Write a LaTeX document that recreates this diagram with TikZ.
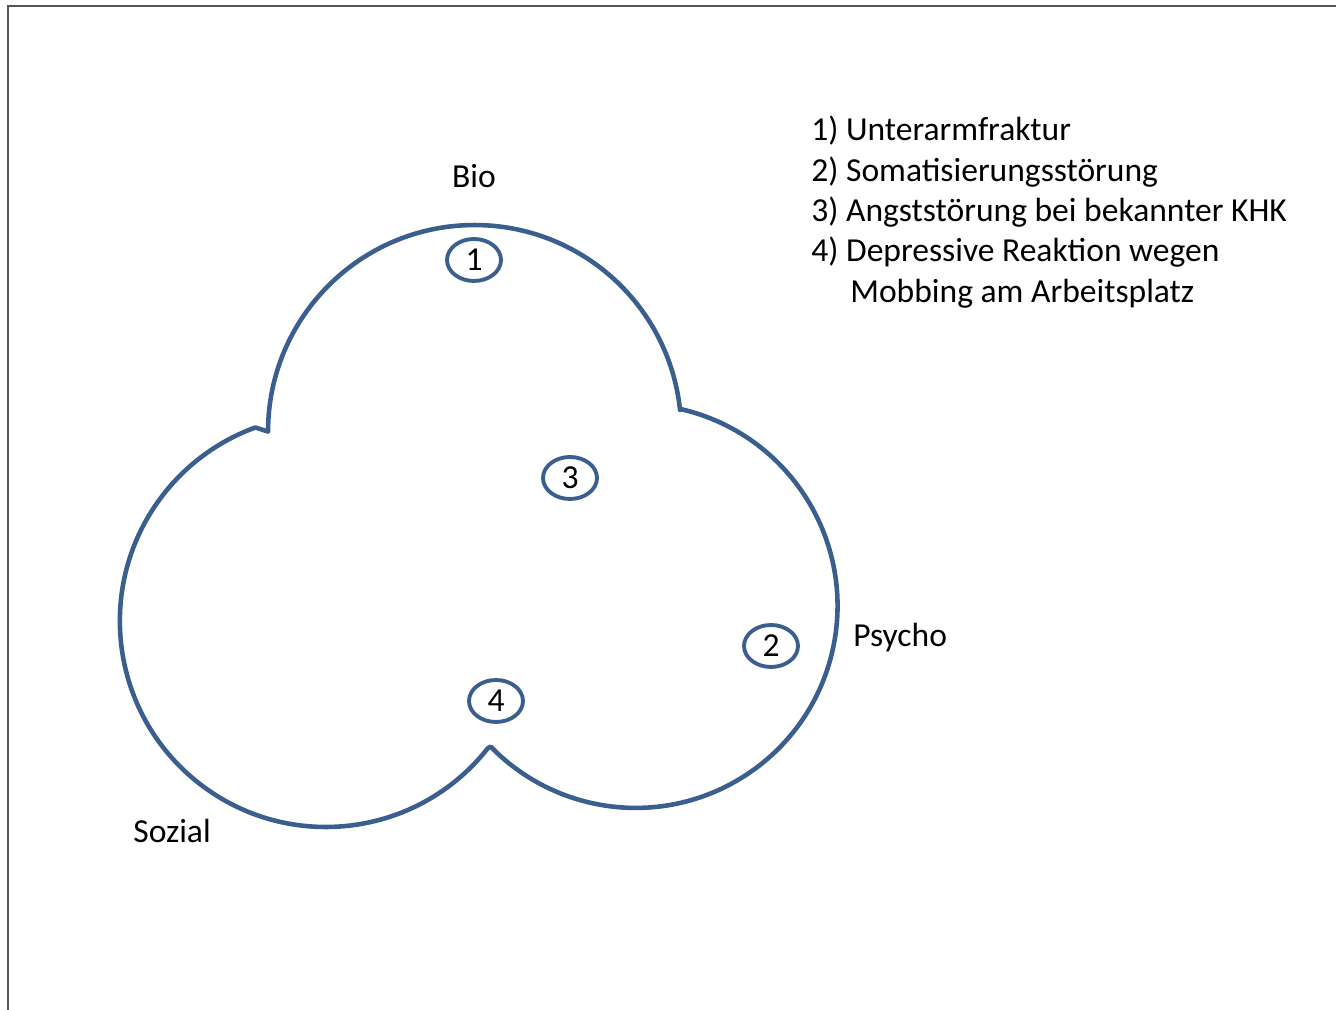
\documentclass[tikz,border=0pt]{standalone}
\usepackage{fontspec}
\setmainfont{Carlito}
\usepackage{tikz}
\usetikzlibrary{calc,shapes.geometric}
\definecolor{umriss}{HTML}{3A5F8E}
\definecolor{rahmen}{HTML}{555555}
\tikzset{
  umrisslinie/.style={draw=umriss,line width=2.6pt,line join=round},
  nummer/.style={ellipse,draw=umriss,line width=2.2pt,minimum width=1.08cm,minimum height=0.84cm,inner sep=0pt,font=\fontsize{19.1}{23}\selectfont},
  beschriftung/.style={anchor=base west,inner sep=0pt,font=\fontsize{19.1}{23}\selectfont}
}

\begin{document}
\begin{tikzpicture}[x=0.02cm,y=0.02cm]
\useasboundingbox (0,0) rectangle (1336,1010);
\draw[rahmen,line width=1.2pt] (8,0) -- (8,1004) -- (1336,1004);
\coordinate (mBio) at (474.6,578.4);
\coordinate (mPsycho) at (636,406);
\coordinate (mSozial) at (325.9,388.9);
\draw[umrisslinie] ($(mBio)+(180:4.132cm)$) arc[start angle=180,end angle=6,radius=4.132cm]
  -- ($(mPsycho)+(77.3:4.0cm)$) arc[start angle=77.3,end angle=-135.8,radius=4.04cm]
  -- ($(mSozial)+(-38.1:4.118cm)$) arc[start angle=-38.1,end angle=-250,radius=4.12cm] -- cycle;
\node[nummer] (n1) at (474,750) {1};
\node[nummer] (n3) at (570,532) {3};
\node[nummer] (n2) at (771,364) {2};
\node[nummer] (n4) at (496,309) {4};
\node[beschriftung,anchor=base] (bio) at (474,822) {Bio};
\node[beschriftung] (psycho) at (853,363) {Psycho};
\node[beschriftung] (sozial) at (133,167) {Sozial};
\foreach \nr/\xpos/\txt in {1/811/{1) Unterarmfraktur},2/811/{2) Somatisierungsstörung},3/811/{3) Angststörung bei bekannter KHK},4/811/{4) Depressive Reaktion wegen},5/850/{Mobbing am Arbeitsplatz}}
  \node[beschriftung] (legende\nr) at (\xpos,{869-40.3*(\nr-1)}) {\txt};
\end{tikzpicture}
\end{document}
